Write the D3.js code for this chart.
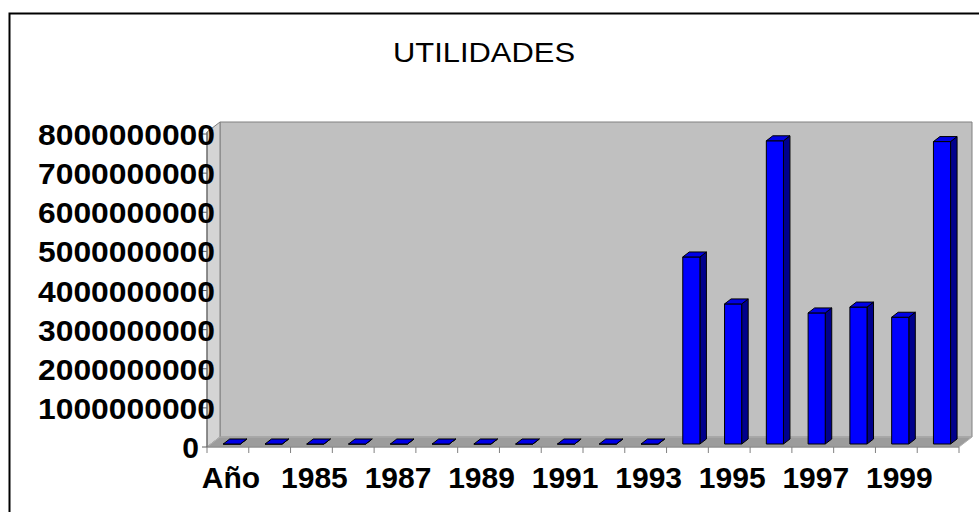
<!DOCTYPE html>
<html>
<head>
<meta charset="utf-8">
<script src="https://cdn.jsdelivr.net/npm/d3@7"></script>
<style>
  body { margin: 0; background: #fff; }
  svg { display: block; font-family: 'Liberation Sans', Arial, sans-serif; }
  .axis-label { font-weight: bold; font-size: 30px; fill: #000; }
  .title { font-size: 27px; fill: #000; }
</style>
</head>
<body>
<svg id="chart" width="979" height="512"></svg>
<script>
const categories = ['Año', '1984', '1985', '1986', '1987', '1988', '1989', '1990', '1991',
  '1992', '1993', '1994', '1995', '1996', '1997', '1998', '1999', '2000'];
const utilidades = [0, 0, 0, 0, 0, 0, 0, 0, 0, 0, 0,
  4780000000, 3580000000, 7750000000, 3350000000, 3500000000, 3240000000, 7730000000];
const xLabels = ['Año', '1985', '1987', '1989', '1991', '1993', '1995', '1997', '1999'];
const yTicks = [0, 1000000000, 2000000000, 3000000000, 4000000000,
  5000000000, 6000000000, 7000000000, 8000000000];

const svg = d3.select('#chart');
const left = 207, right = 959, baseY = 447, topY = 134;
const depthX = 13, depthY = -10;

const xScale = d3.scaleBand().domain(categories).range([left, right]);
const yScale = d3.scaleLinear().domain([0, 8000000000]).range([baseY, topY]);

// oblique projection: depth 0 = front plane, 1 = back wall
const proj = (x, y, d) => [x + d * depthX, y + d * depthY];
const poly = pts => pts.map(p => p.join(',')).join(' ');

// outer frame
svg.append('rect')
  .attr('x', 9.5).attr('y', 13.5)
  .attr('width', 990).attr('height', 520)
  .attr('fill', 'none').attr('stroke', '#000').attr('stroke-width', 2);

svg.append('text')
  .attr('class', 'title')
  .attr('x', 484).attr('y', 62)
  .attr('text-anchor', 'middle')
  .attr('textLength', 182)
  .attr('lengthAdjust', 'spacingAndGlyphs')
  .text('UTILIDADES');

// walls and floor
const y0 = yScale(0), yTop = yScale(8000000000) - 2;
svg.append('polygon') // back wall
  .attr('points', poly([proj(left, yTop, 1), proj(right, yTop, 1), proj(right, y0, 1), proj(left, y0, 1)]))
  .attr('fill', '#c0c0c0').attr('stroke', '#808080');
svg.append('polygon') // side wall
  .attr('points', poly([proj(left, yTop, 0), proj(left, yTop, 1), proj(left, y0, 1), proj(left, y0, 0)]))
  .attr('fill', '#d4d4d4').attr('stroke', '#808080');
svg.append('polygon') // floor
  .attr('points', poly([proj(left, y0, 0), proj(left, y0, 1), proj(right, y0, 1), proj(right, y0, 0)]))
  .attr('fill', '#9c9c9c').attr('stroke', '#b0b0b0');

// bars
const barW = xScale.bandwidth() * 0.41;
const dFront = 0.3, dBack = 0.8;
const bars = svg.selectAll('.bar')
  .data(categories.map((c, i) => ({ cat: c, value: utilidades[i] })))
  .enter()
  .append('g')
  .attr('class', 'bar');

bars.each(function (d) {
  const g = d3.select(this);
  const x0 = xScale(d.cat) + xScale.bandwidth() / 2 - barW / 2;
  const x1 = x0 + barW;
  const yb = yScale(0), yt = yScale(d.value);
  g.append('polygon') // side
    .attr('points', poly([proj(x1, yt, dFront), proj(x1, yt, dBack), proj(x1, yb, dBack), proj(x1, yb, dFront)]))
    .attr('fill', '#00008c').attr('stroke', '#000').attr('stroke-width', 1);
  g.append('polygon') // front
    .attr('points', poly([proj(x0, yt, dFront), proj(x1, yt, dFront), proj(x1, yb, dFront), proj(x0, yb, dFront)]))
    .attr('fill', '#0000ff').attr('stroke', '#000').attr('stroke-width', 1);
  g.append('polygon') // top
    .attr('points', poly([proj(x0, yt, dFront), proj(x0, yt, dBack), proj(x1, yt, dBack), proj(x1, yt, dFront)]))
    .attr('fill', '#0000e6').attr('stroke', '#000').attr('stroke-width', 1);
});

// x axis
svg.append('line')
  .attr('x1', left).attr('x2', right).attr('y1', baseY).attr('y2', baseY)
  .attr('stroke', '#808080');
svg.selectAll('.xtick')
  .data(categories.concat(['end']))
  .enter()
  .append('line')
  .attr('class', 'xtick')
  .attr('x1', (d, i) => left + i * xScale.step())
  .attr('x2', (d, i) => left + i * xScale.step())
  .attr('y1', baseY).attr('y2', baseY + 6)
  .attr('stroke', '#808080');

svg.selectAll('.xlabel')
  .data(xLabels)
  .enter()
  .append('text')
  .attr('class', 'axis-label')
  .attr('x', d => xScale(d) + xScale.bandwidth() / 2 + 3)
  .attr('y', 488)
  .attr('text-anchor', 'middle')
  .text(d => d);

// y axis
svg.append('line')
  .attr('x1', left).attr('x2', left).attr('y1', yTop).attr('y2', baseY)
  .attr('stroke', '#606060');
svg.selectAll('.ytick')
  .data(yTicks)
  .enter()
  .append('line')
  .attr('class', 'ytick')
  .attr('x1', left - 5).attr('x2', left)
  .attr('y1', d => yScale(d)).attr('y2', d => yScale(d))
  .attr('stroke', '#606060');

const yLabels = svg.selectAll('.ylabel')
  .data(yTicks)
  .enter()
  .append('text')
  .attr('class', 'axis-label')
  .attr('x', d => d === 0 ? 199 : 215)
  .attr('y', d => yScale(d) + 11)
  .attr('text-anchor', 'end')
  .text(d => String(d));
yLabels.filter(d => d > 0)
  .attr('textLength', 177)
  .attr('lengthAdjust', 'spacingAndGlyphs');
</script>
</body>
</html>
